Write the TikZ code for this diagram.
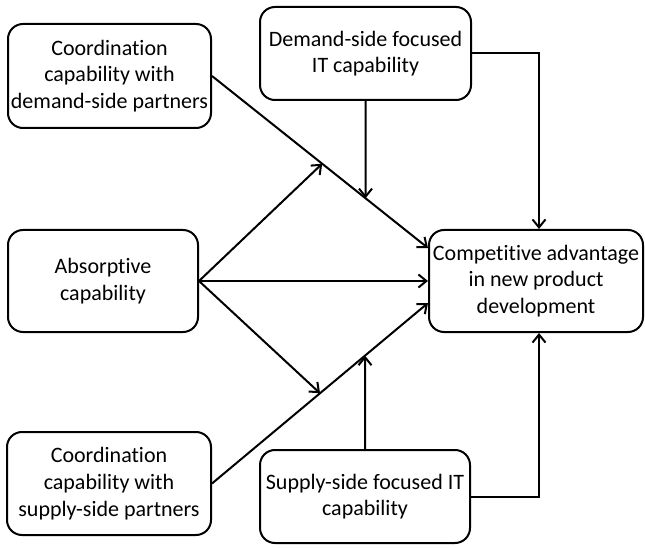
\documentclass[tikz,border=0pt]{standalone}
\usepackage{fontspec}
\setmainfont{Carlito}[Ligatures=NoCommon]
\usetikzlibrary{arrows.meta,calc}
\begin{document}
\begin{tikzpicture}[x=1pt,y=1pt,>={Straight Barb[length=8pt,width=13pt]},
    box/.style={draw,line width=2pt,rounded corners=15pt,align=center,inner sep=0pt,
      font=\fontsize{22}{26.7}\selectfont},
    conn/.style={line width=2pt,->}]
  \useasboundingbox (0,0) rectangle (645,547);

  % Cajas
  \node[box,minimum width=203,minimum height=104] (cdp) at (109.5,471) {Coordination\\capability with\\demand-side partners};
  \node[box,minimum width=211,minimum height=93] (dit) at (365.5,493.5) {Demand-side focused\\IT capability};
  \node[box,minimum width=190,minimum height=102] (abs) at (103,266) {Absorptive\\capability};
  \node[box,minimum width=214,minimum height=102] (cad) at (536,266) {Competitive advantage\\in new product\\development};
  \node[box,minimum width=204,minimum height=103] (csp) at (109,63.5) {Coordination\\capability with\\supply-side partners};
  \node[box,minimum width=210,minimum height=93] (sit) at (365,50.5) {Supply-side focused IT\\capability};

  % Puntos de llegada
  \coordinate (in1) at ([yshift=33]cad.west);
  \coordinate (in2) at ([yshift=-22]cad.west);
  \coordinate (mod1) at ($(cdp.east)!0.51!(in1)$);
  \coordinate (mod2) at ($(csp.east)!0.5!(in2)$);
  \coordinate (j1) at (intersection of cdp.east--in1 and dit.south--dit.north);
  \coordinate (j2) at (intersection of csp.east--in2 and sit.north--sit.south);

  % Efectos directos
  \draw[conn] (cdp.east) -- (in1);
  \draw[conn] (csp.east) -- (in2);
  \draw[conn] (abs.east) -- (cad.west);

  % Moderaciones
  \draw[conn] (abs.east) -- (mod1);
  \draw[conn] (abs.east) -- (mod2);
  \draw[conn] (dit.south) -- (j1);
  \draw[conn] (sit.north) -- (j2);

  % Efectos de TI
  \draw[conn] (dit.east) -| ([xshift=3]cad.north);
  \draw[conn] (sit.east) -| ([xshift=3]cad.south);
\end{tikzpicture}
\end{document}
